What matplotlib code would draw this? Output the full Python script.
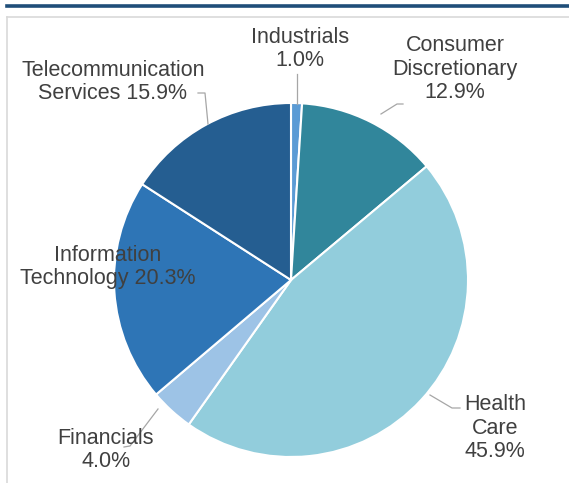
import matplotlib
matplotlib.use("Agg")
import matplotlib.pyplot as plt
from matplotlib.lines import Line2D

categories = ["Industrials", "Consumer Discretionary", "Health Care", "Financials",
              "Information Technology", "Telecommunication Services"]
values = [1.0, 12.9, 45.9, 4.0, 20.3, 15.9]
colors = ["#5b9bd5", "#31869b", "#92cddc", "#9dc3e6", "#2e75b6", "#255e91"]
label_texts = ["Industrials\n1.0%", "Consumer\nDiscretionary\n12.9%", "Health\nCare\n45.9%",
               "Financials\n4.0%", "Information\nTechnology 20.3%", "Telecommunication\nServices 15.9%"]

W, H = 569, 483
fig = plt.figure(figsize=(W / 100, H / 100), dpi=100)
ax = fig.add_axes([0, 0, 1, 1])

def Y(y):
    return H - y

cx, cy, r = 291, 280, 177
ax.pie(values, colors=colors, startangle=90, counterclock=False, center=(cx, Y(cy)),
       radius=r, wedgeprops=dict(edgecolor="white", linewidth=1.5), frame=True)
ax.set_xlim(0, W)
ax.set_ylim(0, H)
ax.set_aspect("equal")
ax.axis("off")

# header line and panel border
ax.add_line(Line2D([7, W], [Y(5.5), Y(5.5)], color="#1f4e79", lw=2.6))
ax.add_line(Line2D([7, W], [Y(17), Y(17)], color="#d9d9d9", lw=1.2))
ax.add_line(Line2D([7.5, 7.5], [Y(17), 0], color="#d9d9d9", lw=1.2))

tcol = "#404040"
fs = 15.5
fam = "Liberation Sans"
label_pos = [(300, 49), (455, 69), (495, 428), (106, 450), (108, 267), (113, 82)]
for txt, (lx, ly) in zip(label_texts, label_pos):
    ax.text(lx, Y(ly), txt, ha="center", va="center", fontsize=fs, color=tcol,
            family=fam, linespacing=1.17)

lcol = "#a6a6a6"
leaders = [
    [(297, 74), (297, 104)],
    [(381, 114), (397, 104), (403, 104)],
    [(430, 395), (452, 408), (460, 408)],
    [(158, 409), (130, 446), (124, 447)],
    [(198, 93), (205, 93), (208, 124)],
]
for pts in leaders:
    xs = [p[0] for p in pts]
    ys = [Y(p[1]) for p in pts]
    ax.add_line(Line2D(xs, ys, color=lcol, lw=0.9))

fig.savefig("out.png", dpi=100, facecolor="white")
